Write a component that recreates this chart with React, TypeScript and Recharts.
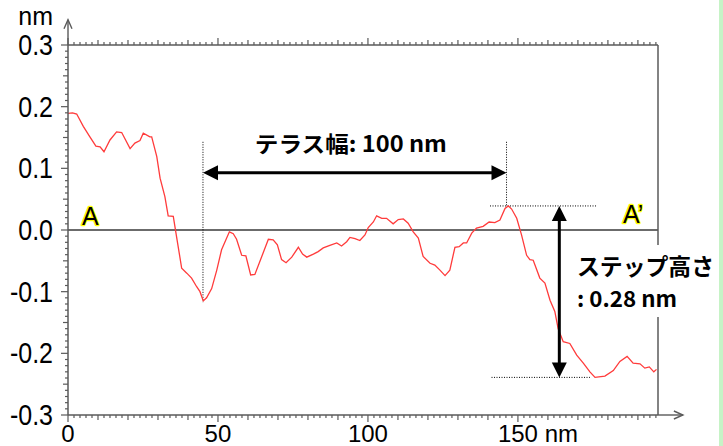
import React from 'react';
import { LineChart, Line, XAxis, YAxis, ReferenceLine, ReferenceDot } from 'recharts';

// profile along A-A' (position in nm, height in nm)
const POS_NM = [
  0, 1.5, 2.9, 5.1, 7.3, 9.3, 10.7, 12, 14, 16.2, 17.9, 20.7, 22.3, 24, 25.1, 27.3, 27.9, 29.6, 30.7, 32.3,
  33.4, 35.1, 36.2, 37.9, 39.6, 41.2, 42.9, 44, 45.1, 46.2, 47.9, 49.6, 51.2, 53.8, 55.1, 56.2, 57.9, 59.3,
  60.9, 62.3, 64.6, 66.8, 68.4, 69.8, 71.2, 72.7, 74.6, 76.8, 78.2, 79.6, 81.8, 83.4, 85.1, 87.3, 89.6,
  91.2, 92.9, 94, 95.7, 97.3, 99, 100.1, 101.8, 102.9, 104.6, 106.2, 108.4, 110.1, 111.8, 113.4, 115.1,
  116.8, 118.4, 120.7, 122.3, 124, 125.7, 127.3, 129, 130.4, 131.8, 132.9, 134.6, 136.2, 138.4, 140.4,
  142.3, 144, 145.7, 146.8, 147.9, 149.6, 151.2, 152.9, 154, 155.1, 157.3, 159, 160.7, 162.3, 163.4,
  165.1, 167.3, 169.6, 171.8, 174, 175.7, 179, 181.8, 184, 186.4, 188.4, 190.7, 192.3, 193.8, 195.3, 196.2,
];
const HEIGHT_NM = [
  0.189, 0.19, 0.188, 0.168, 0.151, 0.136, 0.135, 0.127, 0.146, 0.159, 0.158, 0.132, 0.141, 0.145, 0.157,
  0.151, 0.151, 0.119, 0.084, 0.054, 0.023, 0.022, -0.011, -0.062, -0.07, -0.078, -0.092, -0.1, -0.115,
  -0.11, -0.095, -0.065, -0.032, -0.003, -0.006, -0.015, -0.041, -0.042, -0.073, -0.072, -0.043, -0.015,
  -0.016, -0.024, -0.048, -0.053, -0.044, -0.028, -0.039, -0.044, -0.039, -0.035, -0.029, -0.025, -0.021,
  -0.026, -0.019, -0.012, -0.014, -0.017, -0.008, 0.004, 0.013, 0.023, 0.019, 0.019, 0.01, 0.017, 0.018,
  0.011, -0.003, -0.013, -0.043, -0.054, -0.057, -0.065, -0.074, -0.065, -0.028, -0.027, -0.021, -0.021,
  -0.005, 0.003, 0.006, 0.013, 0.012, 0.016, 0.035, 0.039, 0.034, 0.019, -0.008, -0.041, -0.048, -0.049,
  -0.078, -0.086, -0.114, -0.132, -0.16, -0.181, -0.184, -0.203, -0.216, -0.23, -0.239, -0.237, -0.228,
  -0.213, -0.205, -0.216, -0.217, -0.224, -0.222, -0.23, -0.226,
];

const X_LABELS = [0, 50, 100, 150];
const Y_LABELS = [0.3, 0.2, 0.1, 0, -0.1, -0.2, -0.3];
const X_TICKS = Array.from({ length: 99 }, (_, i) => i * 2);
const Y_TICKS = Array.from({ length: 61 }, (_, i) => (i - 30) / 100);

// annotation positions
const TERRACE_FROM = 45;
const TERRACE_TO = 146.2;
const TERRACE_ARROW_Y = 0.093;
const GUIDE_TOP = 0.143;
const TERRACE_FROM_BOTTOM = -0.117;
const STEP_TOP = 0.039;
const STEP_BOTTOM = -0.239;
const STEP_ARROW_X = 163.8;

const data = POS_NM.map((x, i) => ({ x, h: HEIGHT_NM[i] }));

const AXIS = '#5a5a5a';
const NUM_FONT = '"Liberation Sans", Arial, sans-serif';
const JP_FONT = '"Noto Sans CJK JP", "Noto Sans", sans-serif';

const xLen = (v: number) => (v % 50 === 0 ? 7 : v % 10 === 0 ? 5 : 3);
const yLen = (v: number) => {
  const k = Math.round(v * 100);
  return k % 10 === 0 ? 7 : k % 5 === 0 ? 5 : 3;
};

const BottomTick = ({ x, y, payload }: any) => {
  const v = payload.value;
  return (
    <g>
      <line x1={x} y1={y} x2={x} y2={y + xLen(v)} stroke={AXIS} strokeWidth={1.2} />
      {X_LABELS.includes(v) && (
        <text x={v === 150 ? x - 20 : x} y={y + 27} textAnchor={v === 150 ? 'start' : 'middle'} fontFamily={NUM_FONT} fontSize={24} fill="#000">
          {v === 150 ? '150 nm' : v}
        </text>
      )}
    </g>
  );
};

const TopTick = ({ x, y, payload }: any) => (
  <line x1={x} y1={y} x2={x} y2={y - xLen(payload.value)} stroke={AXIS} strokeWidth={1.2} />
);

const LeftTick = ({ x, y, payload }: any) => {
  const v = payload.value;
  const label = Y_LABELS.find((l) => Math.abs(l - v) < 1e-6);
  return (
    <g>
      <line x1={x} y1={y} x2={x - yLen(v)} y2={y} stroke={AXIS} strokeWidth={1.2} />
      {label !== undefined && (
        <text transform={`translate(${x - 15},${y + 10}) scale(1,1.15)`} textAnchor="end" fontFamily={NUM_FONT} fontSize={25} fill="#000">
          {label.toFixed(1)}
        </text>
      )}
      {label === 0.3 && (
        <text x={x - 15} y={y - 20} textAnchor="end" fontFamily={NUM_FONT} fontSize={25} fill="#000">nm</text>
      )}
    </g>
  );
};

const RightTick = ({ x, y, payload }: any) => (
  <line x1={x} y1={y} x2={x + yLen(payload.value)} y2={y} stroke={AXIS} strokeWidth={1.2} />
);

const AxisArrow = ({ x1, y1, x2, y2 }: any) => {
  const len = Math.hypot(x2 - x1, y2 - y1) || 1;
  const ux = (x2 - x1) / len;
  const uy = (y2 - y1) / len;
  const bx = x2 - ux * 9;
  const by = y2 - uy * 9;
  return (
    <g stroke={AXIS} strokeWidth={1.4} fill="none">
      <line x1={x1} y1={y1} x2={x2} y2={y2} />
      <polyline points={`${bx - uy * 4},${by + ux * 4} ${x2},${y2} ${bx + uy * 4},${by - ux * 4}`} />
    </g>
  );
};

const DoubleArrow = ({ x1, y1, x2, y2 }: any) => {
  const len = Math.hypot(x2 - x1, y2 - y1) || 1;
  const ux = (x2 - x1) / len;
  const uy = (y2 - y1) / len;
  const L = 15;
  const W = 7.5;
  const head = (tx: number, ty: number, dx: number, dy: number) => {
    const bx = tx - dx * L;
    const by = ty - dy * L;
    return `${tx},${ty} ${bx - dy * W},${by + dx * W} ${bx + dy * W},${by - dx * W}`;
  };
  return (
    <g>
      <line x1={x1 + ux * 10} y1={y1 + uy * 10} x2={x2 - ux * 10} y2={y2 - uy * 10} stroke="#000" strokeWidth={3} />
      <polygon points={head(x2, y2, ux, uy)} fill="#000" />
      <polygon points={head(x1, y1, -ux, -uy)} fill="#000" />
    </g>
  );
};

const Dotted = ({ x1, y1, x2, y2 }: any) => (
  <line x1={x1} y1={y1} x2={x2} y2={y2} stroke="#000" strokeWidth={1} strokeDasharray="1 1.5" />
);

const pointLabel = (text: string) => ({ cx, cy }: any) => (
  <text x={cx} y={cy} fontFamily={NUM_FONT} fontSize={25} fill="#000" stroke="#ffff00" strokeWidth={2.5} paintOrder="stroke" strokeLinejoin="round">
    {text}
  </text>
);

const TerraceText = ({ cx, cy }: any) => (
  <text x={cx} y={cy} textAnchor="middle" fontFamily={JP_FONT} fontWeight="bold" fontSize={22} textLength={192} lengthAdjust="spacingAndGlyphs" fill="#000">
    テラス幅: 100 nm
  </text>
);

const StepText = ({ cx, cy }: any) => (
  <g>
    <rect x={cx - 3} y={cy - 30} width={142} height={72} fill="#fff" />
    <text x={cx} y={cy} fontFamily={JP_FONT} fontWeight="bold" fontSize={23} textLength={137} lengthAdjust="spacingAndGlyphs" fill="#000">
      ステップ高さ
    </text>
    <text x={cx} y={cy + 32} fontFamily={JP_FONT} fontWeight="bold" fontSize={22} textLength={100} lengthAdjust="spacingAndGlyphs" fill="#000">
      : 0.28 nm
    </text>
  </g>
);

export default function App() {
  return (
    <div style={{ position: 'absolute', left: 0, top: 0, width: 723, height: 446, background: '#fff' }}>
      <LineChart width={723} height={446} data={data} margin={{ top: 35, right: 55, bottom: 1, left: 8 }}>
        <XAxis dataKey="x" type="number" domain={[0, 196.7]} ticks={X_TICKS} interval={0} tickSize={0} tickMargin={0}
          height={30} stroke={AXIS} axisLine={{ stroke: AXIS, strokeWidth: 1.5 }} tickLine={false} tick={<BottomTick />} />
        <XAxis xAxisId="top" orientation="top" dataKey="x" type="number" domain={[0, 196.7]} ticks={X_TICKS} interval={0}
          tickSize={0} tickMargin={0} height={10} axisLine={{ stroke: AXIS, strokeWidth: 1.5 }} tickLine={false} tick={<TopTick />} />
        <YAxis type="number" domain={[-0.3, 0.3]} ticks={Y_TICKS} interval={0} tickSize={0} tickMargin={0} width={60}
          axisLine={{ stroke: AXIS, strokeWidth: 1.5 }} tickLine={false} tick={<LeftTick />} />
        <YAxis yAxisId="right" orientation="right" type="number" domain={[-0.3, 0.3]} ticks={Y_TICKS} interval={0}
          tickSize={0} tickMargin={0} width={10} axisLine={{ stroke: AXIS, strokeWidth: 1.5 }} tickLine={false} tick={<RightTick />} />

        <ReferenceLine segment={[{ x: 0, y: 0.3 }, { x: 0, y: 0.341 }]} ifOverflow="visible" shape={<AxisArrow />} />
        <ReferenceLine segment={[{ x: 196.7, y: -0.3 }, { x: 205, y: -0.3 }]} ifOverflow="visible" shape={<AxisArrow />} />
        <ReferenceLine y={0} stroke="#3a3a3a" strokeWidth={1.5} />

        <ReferenceLine segment={[{ x: TERRACE_FROM, y: GUIDE_TOP }, { x: TERRACE_FROM, y: TERRACE_FROM_BOTTOM }]} shape={<Dotted />} />
        <ReferenceLine segment={[{ x: TERRACE_TO, y: GUIDE_TOP }, { x: TERRACE_TO, y: STEP_TOP }]} shape={<Dotted />} />
        <ReferenceLine segment={[{ x: 140.7, y: STEP_TOP }, { x: 176.3, y: STEP_TOP }]} shape={<Dotted />} />
        <ReferenceLine segment={[{ x: 141.2, y: STEP_BOTTOM }, { x: 174, y: STEP_BOTTOM }]} shape={<Dotted />} />

        <Line dataKey="h" type="linear" stroke="#ff3b3b" strokeWidth={1.3} dot={false} isAnimationActive={false} />

        <ReferenceLine segment={[{ x: TERRACE_FROM, y: TERRACE_ARROW_Y }, { x: TERRACE_TO, y: TERRACE_ARROW_Y }]} shape={<DoubleArrow />} />
        <ReferenceLine segment={[{ x: STEP_ARROW_X, y: STEP_TOP }, { x: STEP_ARROW_X, y: STEP_BOTTOM }]} shape={<DoubleArrow />} />

        <ReferenceDot x={94.3} y={0.1265} r={1} shape={<TerraceText />} />
        <ReferenceDot x={4.7} y={0.008} r={1} shape={pointLabel('A')} />
        <ReferenceDot x={185} y={0.011} r={1} shape={pointLabel('A’')} />
        <ReferenceDot x={169.7} y={-0.073} r={1} ifOverflow="visible" shape={<StepText />} zIndex={2000} />
      </LineChart>
      <div style={{ position: 'absolute', left: 719, top: 0, width: 4, height: 446, background: '#c6f3c6' }} />
    </div>
  );
}
